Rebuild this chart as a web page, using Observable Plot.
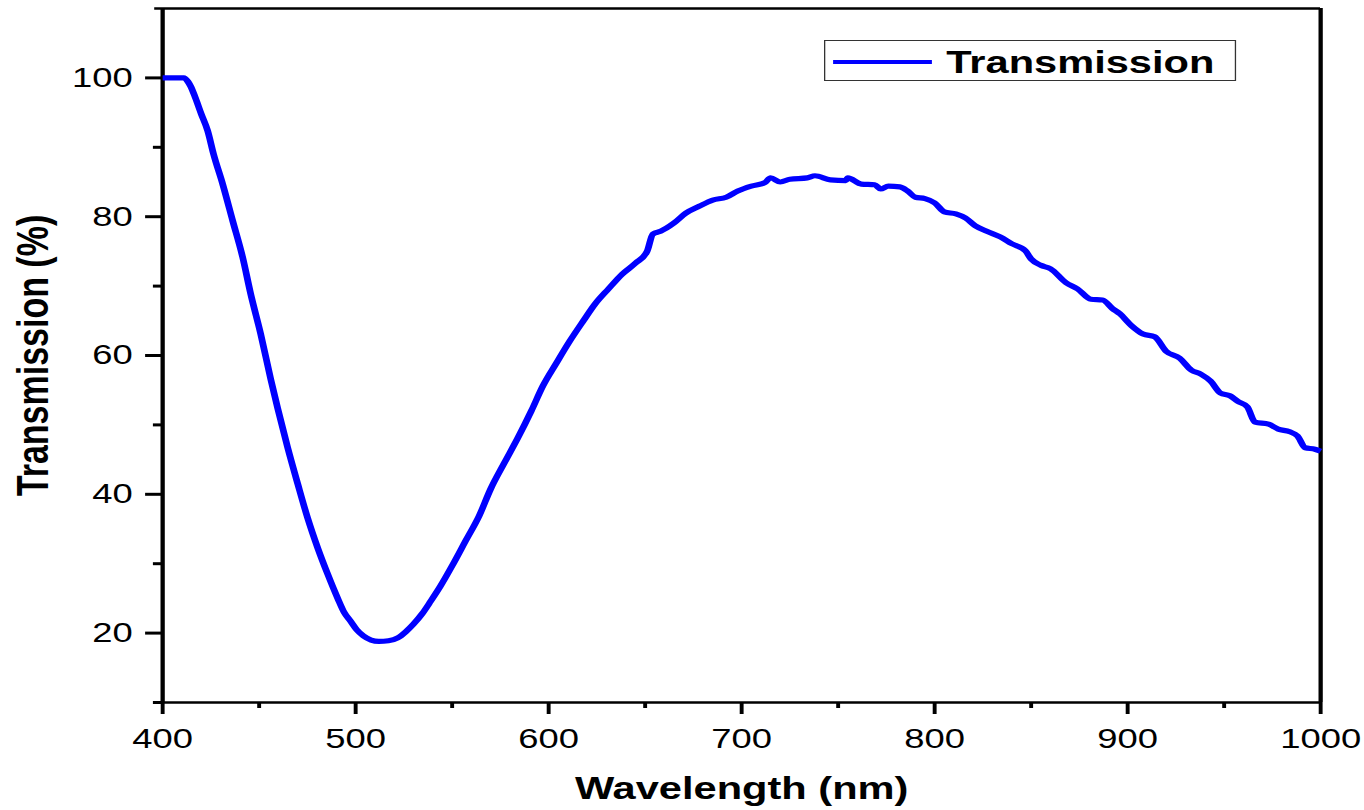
<!DOCTYPE html>
<html>
<head>
<meta charset="utf-8">
<script src="https://cdn.jsdelivr.net/npm/d3@7"></script>
<script src="https://cdn.jsdelivr.net/npm/@observablehq/plot@0.6"></script>
<style>
  body { margin: 0; background: #fff; }
  #wrap { position: relative; width: 1364px; height: 810px; overflow: hidden; background: #fff; }
  #legend {
    position: absolute; left: 824px; top: 40px; width: 317px; height: 41px;
    border: 1.5px solid #333; box-sizing: border-box; background: #fff;
    transform: scaleX(1.3); transform-origin: 0 0;
    font-family: "Liberation Sans", Arial, sans-serif; font-weight: bold; font-size: 32px; color: #000;
  }
  #legend .swatch { position: absolute; left: 6.2px; top: 18.5px; width: 76px; height: 4.5px; background: #0000ff; }
  #legend .lab { position: absolute; left: 93px; top: 5px; line-height: 32px; white-space: nowrap; }
</style>
</head>
<body>
<div id="wrap">
  <div id="chart"></div>
  <div id="legend"><div class="swatch"></div><div class="lab" id="legendText"></div></div>
</div>
<script>
// ---- data ----
const wavelength = [400,405,411,413,414.5,417,420,423.3,426.4,431.1,436.3,441.5,445.6,450.8,456,459.6,464.8,470,475.1,480.3,
  485.5,490.7,494,497.4,500.5,504,508,512,517,521.8,526,530,534.5,538.9,544,550,557,564,570,577,
  584,591,597,604,611,618,624,631,638,645,651,654,658,665,671,678,685,692,698,705,
  712,715,720,725,734,738,746,754,755,762,769,772,776,782,786,790,795,800,805,811,
  816,821,827,834,840,847,850,855,860,868,874,881,887,892,896,902,908,914,920,927,
  933,938,943,948,953,957,962,966,973,978,984,988,992,997,1000];
const transmission = [100,100,100,99.5,98.8,97.1,94.8,92.4,89.0,84.7,79.4,74.1,68.9,63.1,56.6,52.4,46.7,41.5,36.6,32.3,
  28.5,25.0,23.0,21.7,20.5,19.6,19.0,18.8,18.9,19.3,20.2,21.3,22.8,24.6,26.8,29.7,33.3,36.9,40.8,44.5,
  48.1,52,55.6,58.9,62.1,65,67.4,69.6,71.7,73.3,75,77.5,77.9,79.1,80.5,81.5,82.4,82.8,83.7,84.4,
  84.9,85.6,85.0,85.4,85.6,85.9,85.3,85.2,85.6,84.7,84.6,84.0,84.4,84.3,83.7,82.8,82.6,82.0,80.7,80.4,
  79.8,78.7,77.9,77.1,76.1,75.1,73.9,73.0,72.5,70.5,69.6,68.1,68.0,66.8,66.0,64.3,63.1,62.7,60.6,59.6,
  57.9,57.3,56.3,54.6,54.2,53.4,52.6,50.4,50.1,49.4,49.0,48.4,46.7,46.5,46.2];
const seriesName = "Transmission";
const xTitle = "Wavelength (nm)";
const yTitle = "Transmission (%)";
const xDomain = [400, 1000];
const yDomain = [10, 110];
const xMajorTicks = [400, 500, 600, 700, 800, 900, 1000];
const xMinorTicks = [450, 550, 650, 750, 850, 950];
const yMajorTicks = [20, 40, 60, 80, 100];
const yMinorTicks = [10, 30, 50, 70, 90];

const data = wavelength.map((w, i) => ({w, t: transmission[i]}));

// The reference is horizontally stretched; draw at a narrower width and stretch the SVG.
const stretch = 1.3;
const W = 1364, H = 810;
const W0 = W / stretch;

const plot = Plot.plot({
  width: W0,
  height: H,
  marginLeft: 162 / stretch,
  marginRight: 44 / stretch,
  marginTop: 8,
  marginBottom: 108,
  x: {domain: xDomain},
  y: {domain: yDomain},
  style: {fontFamily: "'Liberation Sans', Arial, sans-serif", color: "#000", background: "#fff"},
  marks: [
    Plot.axisX({ticks: xMajorTicks, tickSize: 12, tickPadding: 14, fontSize: 28, strokeWidth: 3, label: null, tickFormat: d => String(d)}),
    Plot.axisX({ticks: xMinorTicks, tickSize: 6, text: null, strokeWidth: 3, label: null}),
    Plot.axisY({ticks: yMajorTicks, tickSize: 13, tickPadding: 10, fontSize: 28, strokeWidth: 3, label: null, tickFormat: d => String(d)}),
    Plot.axisY({ticks: yMinorTicks, tickSize: 7, text: null, strokeWidth: 3, label: null}),
    Plot.ruleX(xDomain, {stroke: "#000", strokeWidth: 3.3}),
    Plot.ruleY(yDomain, {stroke: "#000", strokeWidth: 2.4, insetLeft: -6}),
    Plot.line(data, {x: "w", y: "t", curve: "monotone-x", stroke: "#0000ff", strokeWidth: 5.2, strokeLinejoin: "round", strokeLinecap: "butt"}),
    Plot.text([xTitle], {frameAnchor: "bottom", dy: 86, lineAnchor: "middle", fontSize: 32, fontWeight: "bold", fill: "#000"}),
    Plot.text([yTitle], {frameAnchor: "left", dx: -99, rotate: -90, lineAnchor: "middle", textAnchor: "middle", fontSize: 34, fontWeight: "bold", fill: "#000"})
  ]
});

plot.setAttribute("width", W);
plot.setAttribute("height", H);
plot.setAttribute("viewBox", `0 0 ${W0} ${H}`);
plot.setAttribute("preserveAspectRatio", "none");
plot.style.maxWidth = "none";
plot.style.width = W + "px";
plot.style.height = H + "px";
plot.style.display = "block";
document.getElementById("chart").appendChild(plot);
document.getElementById("legendText").textContent = seriesName;
</script>
</body>
</html>
